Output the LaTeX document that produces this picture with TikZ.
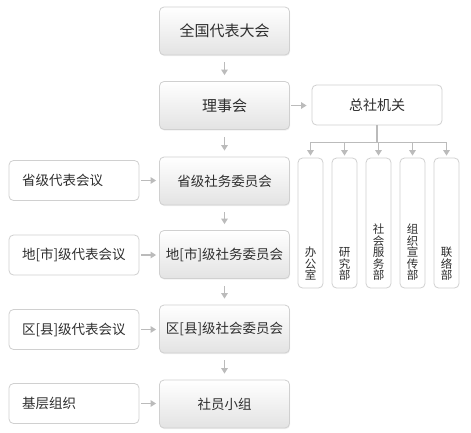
\documentclass[tikz,border=0pt]{standalone}
\usepackage{fontspec}
\setmainfont{Noto Sans CJK SC}
\usetikzlibrary{arrows.meta,positioning,shadows}
\definecolor{boxline}{HTML}{D0D0D0}
\definecolor{arrowgray}{HTML}{BBBBBB}
\definecolor{textgray}{HTML}{2E2E2E}
\newcommand{\vtext}[1]{\parbox[c][114pt][b]{14pt}{\centering\fontsize{11.5pt}{11.5pt}\selectfont #1}}

\begin{document}
\begin{tikzpicture}[x=1pt, y=-1pt,
  every node/.style={font=\fontsize{13.5pt}{16pt}\selectfont, text=textgray},
  box/.style={draw=boxline, line width=0.8pt, rounded corners=4.5pt, fill=white},
  mainbox/.style={box, minimum width=130pt, minimum height=48pt, top color=white, bottom color=gray!22,
    drop shadow={opacity=0.12, shadow xshift=0.6pt, shadow yshift=-1.2pt}},
  bigtext/.style={font=\fontsize{15pt}{18pt}\selectfont},
  leftbox/.style={box, minimum width=130pt, minimum height=40pt, text width=104pt, inner xsep=13pt, align=left},
  deptbox/.style={box, minimum width=25pt, minimum height=130pt, inner sep=0pt},
  line/.style={draw=arrowgray, line width=1.3pt},
  arr/.style={line, -{Triangle[width=6.5pt,length=5.5pt]}}]
  \useasboundingbox (0,0) rectangle (471,432);

  \node[mainbox, bigtext] (qgdb) at (224.5,31) {全国代表大会};
  \node[mainbox, bigtext] (lsh) at (224.5,105.5) {理事会};
  \node[mainbox] (sjsw) at (224.5,181) {省级社务委员会};
  \node[mainbox] (dsjsw) at (224.5,254.5) {地[市]级社务委员会};
  \node[mainbox] (qxjsh) at (224.5,329) {区[县]级社会委员会};
  \node[mainbox] (syxz) at (224.5,404) {社员小组};

  \node[leftbox] (sjdb) at (74,180.5) {省级代表会议};
  \node[leftbox] (dsjdb) at (74,255) {地[市]级代表会议};
  \node[leftbox] (qxjdb) at (74,329.5) {区[县]级代表会议};
  \node[leftbox] (jczz) at (74,403.5) {基层组织};

  \node[box, minimum width=130pt, minimum height=40pt, font=\fontsize{14pt}{16pt}\selectfont] (zsjg) at (377,105) {总社机关};

  \node[deptbox] (bgs) at (310.5,223) {\vtext{办\\公\\室}};
  \node[deptbox] (yjb) at (344.5,223) {\vtext{研\\究\\部}};
  \node[deptbox] (shfwb) at (378.5,223) {\vtext{社\\会\\服\\务\\部}};
  \node[deptbox] (zzxcb) at (412.5,223) {\vtext{组\\织\\宣\\传\\部}};
  \node[deptbox] (llb) at (446.5,223) {\vtext{联\\络\\部}};

  \foreach \a/\b in {qgdb/lsh, lsh/sjsw, sjsw/dsjsw, dsjsw/qxjsh, qxjsh/syxz}
    \draw[arr, shorten <=7pt, shorten >=6pt] (\a.south) -- (\b.north);
  \foreach \a/\b in {sjdb/sjsw, dsjdb/dsjsw, qxjdb/qxjsh, jczz/syxz}
    \draw[arr, shorten <=2pt, shorten >=3pt] (\a.east) -- (\a.east -| \b.west);
  \draw[arr, shorten <=1pt, shorten >=5pt] (lsh.east) -- (lsh.east -| zsjg.west);

  \draw[line] (zsjg.south) -- ++(0,17) coordinate (bus);
  \draw[line] (bgs.north |- bus) -- (llb.north |- bus);
  \foreach \d in {bgs,yjb,shfwb,zzxcb,llb}
    \draw[arr, shorten >=2pt] (\d.north |- bus) -- (\d.north);
\end{tikzpicture}
\end{document}
